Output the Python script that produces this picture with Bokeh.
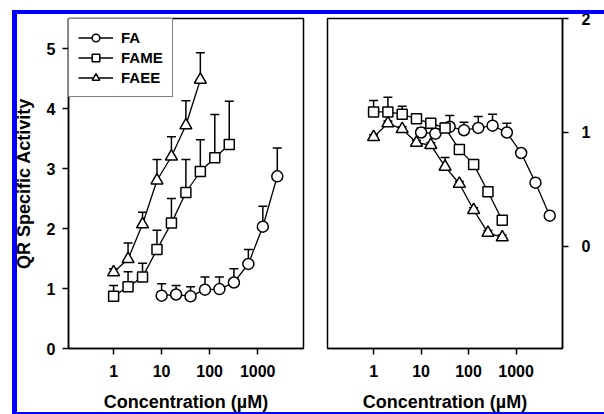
from bokeh.plotting import figure
from bokeh.layouts import row
from bokeh.models import (Range1d, FixedTicker, Whisker, TeeHead, ColumnDataSource,
                          InlineStyleSheet)
from bokeh.embed import file_html
from bokeh.resources import INLINE

# ---------------- data: left panel (QR specific activity) ----------------
fa_conc = [10, 20, 40, 80, 160, 320, 640, 1280, 2560]
fa_qr = [0.88, 0.90, 0.87, 0.98, 0.99, 1.10, 1.41, 2.03, 2.87]
fa_qr_err = [0.20, 0.15, 0.16, 0.21, 0.20, 0.23, 0.24, 0.34, 0.47]

fame_conc = [1, 2, 4, 8, 16, 32, 64, 128, 256]
fame_qr = [0.87, 1.03, 1.19, 1.65, 2.09, 2.60, 2.95, 3.18, 3.40]
fame_qr_err = [0.18, 0.25, 0.23, 0.32, 0.41, 0.55, 0.53, 0.72, 0.72]

faee_conc = [1, 2, 4, 8, 16, 32, 64]
faee_qr = [1.27, 1.49, 2.07, 2.80, 3.20, 3.72, 4.48]
faee_qr_err = [0.06, 0.27, 0.20, 0.35, 0.33, 0.41, 0.45]

# ---------------- data: right panel ----------------
fa_conc2 = [10, 20, 40, 80, 160, 320, 640, 1280, 2560, 5120]
fa_val2 = [1.00, 0.99, 1.05, 1.02, 1.04, 1.06, 1.00, 0.82, 0.56, 0.27]
fa_err2 = [0.04, 0.04, 0.10, 0.07, 0.10, 0.10, 0.08, 0.02, 0.02, 0.02]

fame_conc2 = [1, 2, 4, 8, 16, 32, 64, 128, 256, 512]
fame_val2 = [1.18, 1.18, 1.16, 1.12, 1.08, 1.04, 0.85, 0.72, 0.48, 0.23]
fame_err2 = [0.10, 0.13, 0.07, 0.04, 0.04, 0.04, 0.02, 0.02, 0.02, 0.02]

faee_conc2 = [1, 2, 4, 8, 16, 32, 64, 128, 256, 512]
faee_val2 = [0.96, 1.08, 1.03, 0.91, 0.89, 0.70, 0.55, 0.32, 0.12, 0.08]
faee_err2 = [0.02, 0.02, 0.02, 0.02, 0.02, 0.08, 0.02, 0.02, 0.02, 0.02]

x_ticks = [1, 10, 100, 1000]
x_tick_labels = ["1", "10", "100", "1000"]
left_y_ticks = [0, 1, 2, 3, 4, 5]
right_y_ticks = [0, 1, 2]

FONT = "Liberation Sans"
BLUE = "#0000ff"


def style_axes(p):
    for ax in list(p.xaxis) + list(p.yaxis):
        ax.axis_line_width = 1.5
        ax.major_tick_line_width = 1.5
        ax.major_tick_out = 6
        ax.major_tick_in = 0
        ax.minor_tick_out = 0
        ax.minor_tick_in = 0
        ax.major_label_text_font = FONT
        ax.major_label_text_font_style = "bold"
        ax.major_label_text_font_size = "16px"
        ax.major_label_text_color = "black"
        ax.axis_label_text_font = FONT
        ax.axis_label_text_font_style = "bold"
        ax.axis_label_text_font_size = "18px"
        ax.axis_label_text_color = "black"
    p.xaxis.ticker = FixedTicker(ticks=x_ticks)
    p.xaxis.major_label_overrides = {t: l for t, l in zip(x_ticks, x_tick_labels)}
    p.xaxis.major_label_standoff = 10
    p.xaxis.axis_label_standoff = 12
    p.xgrid.visible = False
    p.ygrid.visible = False
    p.outline_line_color = "black"
    p.outline_line_width = 1.5
    p.background_fill_color = "white"
    p.border_fill_color = "white"


def series(p, x, y, err, marker, size, label=None):
    src = ColumnDataSource(dict(x=x, y=y, upper=[a + b for a, b in zip(y, err)]))
    w = Whisker(base="x", lower="y", upper="upper", source=src, dimension="height",
                line_color="black", line_width=1.5,
                upper_head=TeeHead(size=9, line_color="black", line_width=1.5),
                lower_head=None)
    p.add_layout(w)
    kw = {"legend_label": label} if label else {}
    p.line("x", "y", source=src, line_color="black", line_width=1.3, **kw)
    p.scatter("x", "y", source=src, marker=marker, size=size, fill_color="white",
              line_color="black", line_width=1.5, **kw)


# ---------------- left figure ----------------
p1 = figure(width=315, height=414, x_axis_type="log",
            x_range=Range1d(0.115, 9000), y_range=Range1d(0, 5.5),
            toolbar_location=None, output_backend="svg",
            min_border_left=68, min_border_right=12, min_border_top=18,
            min_border_bottom=66)
p1.xaxis.axis_label = "Concentration (\u00b5M)"
p1.yaxis.axis_label = "QR Specific Activity"
style_axes(p1)
p1.yaxis.ticker = FixedTicker(ticks=left_y_ticks)
p1.yaxis.major_label_standoff = 7
p1.yaxis.axis_label_standoff = 10

series(p1, fa_conc, fa_qr, fa_qr_err, "circle", 11, "FA")
series(p1, fame_conc, fame_qr, fame_qr_err, "square", 10, "FAME")
series(p1, faee_conc, faee_qr, faee_qr_err, "triangle", 12, "FAEE")

lg = p1.legend[0]
lg.location = "top_left"
lg.margin = 0
lg.padding = 9
lg.spacing = 1
lg.label_height = 19
lg.glyph_height = 19
lg.glyph_width = 35
lg.label_standoff = 8
lg.label_text_font = FONT
lg.label_text_font_style = "bold"
lg.label_text_font_size = "15px"
lg.label_text_color = "black"
lg.border_line_color = "black"
lg.border_line_width = 1.5
lg.background_fill_alpha = 1.0

# ---------------- right figure ----------------
p2 = figure(width=289, height=414, x_axis_type="log", y_axis_location="right",
            x_range=Range1d(0.107, 9500), y_range=Range1d(-0.895, 2.0),
            toolbar_location=None, output_backend="svg",
            min_border_left=12, min_border_right=42, min_border_top=18,
            min_border_bottom=66)
p2.xaxis.axis_label = "Concentration (\u00b5M)"
style_axes(p2)
p2.yaxis.ticker = FixedTicker(ticks=right_y_ticks)
p2.yaxis.major_label_standoff = 13

series(p2, fa_conc2, fa_val2, fa_err2, "circle", 11)
series(p2, fame_conc2, fame_val2, fame_err2, "square", 10)
series(p2, faee_conc2, faee_val2, faee_err2, "triangle", 12)

# blue frame drawn over the page (as in the reference image)
frame_css = InlineStyleSheet(css="""
:host { position: relative; }
:host::after {
  content: "";
  position: absolute;
  left: 12px; top: 10px; width: 592px; height: 404px;
  box-sizing: border-box;
  border-left: 5px solid #0000ff;
  border-top: 4px solid #0000ff;
  border-bottom: 2px solid #0000ff;
  pointer-events: none;
  z-index: 100;
}
""")

layout = row(p1, p2, stylesheets=[frame_css])
open("out.html", "w").write(file_html(layout, INLINE))
